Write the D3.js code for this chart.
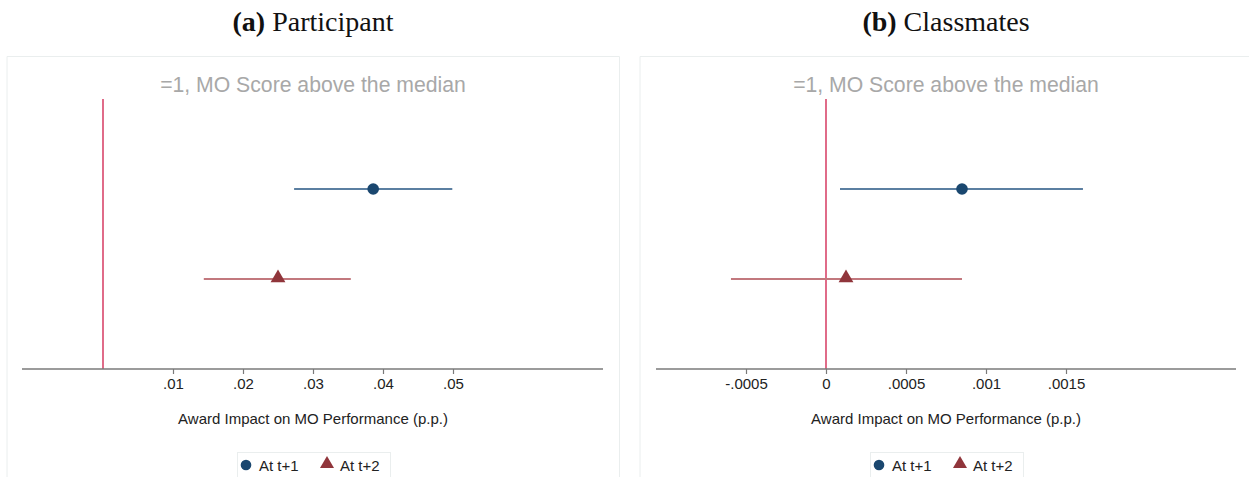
<!DOCTYPE html>
<html>
<head>
<meta charset="utf-8">
<script src="https://cdn.jsdelivr.net/npm/d3@7"></script>
<style>
  html, body { margin: 0; padding: 0; background: #fff; }
  svg { display: block; }
</style>
</head>
<body>
<svg id="chart" width="1249" height="477"></svg>
<script>
// Estimated award effects with 95% confidence intervals
const seriesNames = ["At t+1", "At t+2"];
const panelLetters = ["(a)", "(b)"];
const panelNames = ["Participant", "Classmates"];
const subtitle = "=1, MO Score above the median";
const axisTitle = "Award Impact on MO Performance (p.p.)";

const participantEst = [0.0386, 0.0250];
const participantLo  = [0.0273, 0.0144];
const participantHi  = [0.0499, 0.0354];

const classmatesEst = [0.00085, 0.000125];
const classmatesLo  = [0.0000875, -0.000594];
const classmatesHi  = [0.001606, 0.00085];

const participantTicks = [0.01, 0.02, 0.03, 0.04, 0.05];
const participantTickLabels = [".01", ".02", ".03", ".04", ".05"];
const classmatesTicks = [-0.0005, 0, 0.0005, 0.001, 0.0015];
const classmatesTickLabels = ["-.0005", "0", ".0005", ".001", ".0015"];

const colBlue = "#1a476f";
const colRed = "#90353b";
const colBlueCI = "#5b7fa1";
const colRedCI = "#c2787e";
const colZero = "#d9476b";

const sans = "'Liberation Sans', Arial, sans-serif";
const svg = d3.select("#chart");

const panels = [
  {
    letter: panelLetters[0], name: panelNames[0],
    est: participantEst, lo: participantLo, hi: participantHi,
    ticks: participantTicks, tickLabels: participantTickLabels,
    domain: [-0.011571, 0.071429], range: [22, 603],
    box: [7, 620], cx: 313, legendX: 237
  },
  {
    letter: panelLetters[1], name: panelNames[1],
    est: classmatesEst, lo: classmatesLo, hi: classmatesHi,
    ticks: classmatesTicks, tickLabels: classmatesTickLabels,
    domain: [-0.0010625, 0.0025625], range: [656, 1236],
    box: [640, 1262], cx: 946, legendX: 870
  }
];

const axisY = 369;
const plotTop = 99;
const y = d3.scalePoint().domain(seriesNames).range([189, 279]);

panels.forEach(p => {
  const g = svg.append("g");
  const x = d3.scaleLinear().domain(p.domain).range(p.range);

  // panel heading
  const head = g.append("text")
    .attr("x", p.cx).attr("y", 31)
    .attr("text-anchor", "middle")
    .style("font-family", "'Liberation Serif', 'DejaVu Serif', serif")
    .style("font-size", "28px")
    .attr("fill", "#111");
  head.append("tspan").style("font-weight", "bold").text(p.letter);
  head.append("tspan").text(" " + p.name);

  // faint graph frame
  g.append("path")
    .attr("d", `M${p.box[0]},${477}V56.5H${p.box[1] - 0.5}V477`)
    .attr("fill", "none")
    .attr("stroke", "#eaeeee")
    .attr("stroke-width", 1);

  // subtitle
  g.append("text")
    .attr("x", p.cx).attr("y", 92)
    .attr("text-anchor", "middle")
    .style("font-family", sans)
    .style("font-size", "21.2px")
    .attr("fill", "#a8a8a8")
    .text(subtitle);

  // reference line at zero
  g.append("line")
    .attr("x1", x(0)).attr("x2", x(0))
    .attr("y1", plotTop).attr("y2", axisY)
    .attr("stroke", colZero).attr("stroke-width", 1.6);

  // x axis
  const axis = d3.axisBottom(x)
    .tickValues(p.ticks)
    .tickFormat((d, i) => p.tickLabels[i])
    .tickSize(5)
    .tickPadding(4);
  const ax = g.append("g")
    .attr("transform", `translate(0,${axisY})`)
    .call(axis);
  ax.select(".domain").remove();
  ax.append("line")
    .attr("x1", p.range[0]).attr("x2", p.range[1])
    .attr("y1", 0).attr("y2", 0)
    .attr("stroke", "#7a7a7a").attr("stroke-width", 1.5);
  ax.selectAll(".tick line").attr("stroke", "#7a7a7a").attr("stroke-width", 1.2);
  ax.selectAll(".tick text")
    .style("font-family", sans)
    .style("font-size", "15px")
    .attr("fill", "#222");

  // axis title
  g.append("text")
    .attr("x", p.cx).attr("y", 424)
    .attr("text-anchor", "middle")
    .style("font-family", sans)
    .style("font-size", "15px")
    .attr("fill", "#222")
    .text(axisTitle);

  // confidence intervals
  const ciCols = [colBlueCI, colRedCI];
  g.selectAll(".ci")
    .data(seriesNames)
    .enter().append("line")
    .attr("x1", (d, i) => x(p.lo[i]))
    .attr("x2", (d, i) => x(p.hi[i]))
    .attr("y1", d => y(d)).attr("y2", d => y(d))
    .attr("stroke", (d, i) => ciCols[i])
    .attr("stroke-width", 2);

  // point estimates
  g.append("circle")
    .attr("cx", x(p.est[0])).attr("cy", y(seriesNames[0]))
    .attr("r", 5.8).attr("fill", colBlue);
  g.append("path")
    .attr("d", d3.symbol().type(d3.symbolTriangle).size(95)())
    .attr("transform", `translate(${x(p.est[1])},${y(seriesNames[1]) - 1})`)
    .attr("fill", colRed);

  // legend
  const lg = g.append("g");
  lg.append("rect")
    .attr("x", p.legendX + 0.5).attr("y", 452.5)
    .attr("width", 153).attr("height", 40)
    .attr("fill", "#fff").attr("stroke", "#eaeeee");
  lg.append("circle")
    .attr("cx", p.legendX + 9).attr("cy", 465).attr("r", 5.3).attr("fill", colBlue);
  lg.append("text")
    .attr("x", p.legendX + 22).attr("y", 470.5)
    .style("font-family", sans)
    .style("font-size", "15px").attr("fill", "#222")
    .text(seriesNames[0]);
  lg.append("path")
    .attr("d", d3.symbol().type(d3.symbolTriangle).size(85)())
    .attr("transform", `translate(${p.legendX + 90},${464})`)
    .attr("fill", colRed);
  lg.append("text")
    .attr("x", p.legendX + 103).attr("y", 470.5)
    .style("font-family", sans)
    .style("font-size", "15px").attr("fill", "#222")
    .text(seriesNames[1]);
});
</script>
</body>
</html>
